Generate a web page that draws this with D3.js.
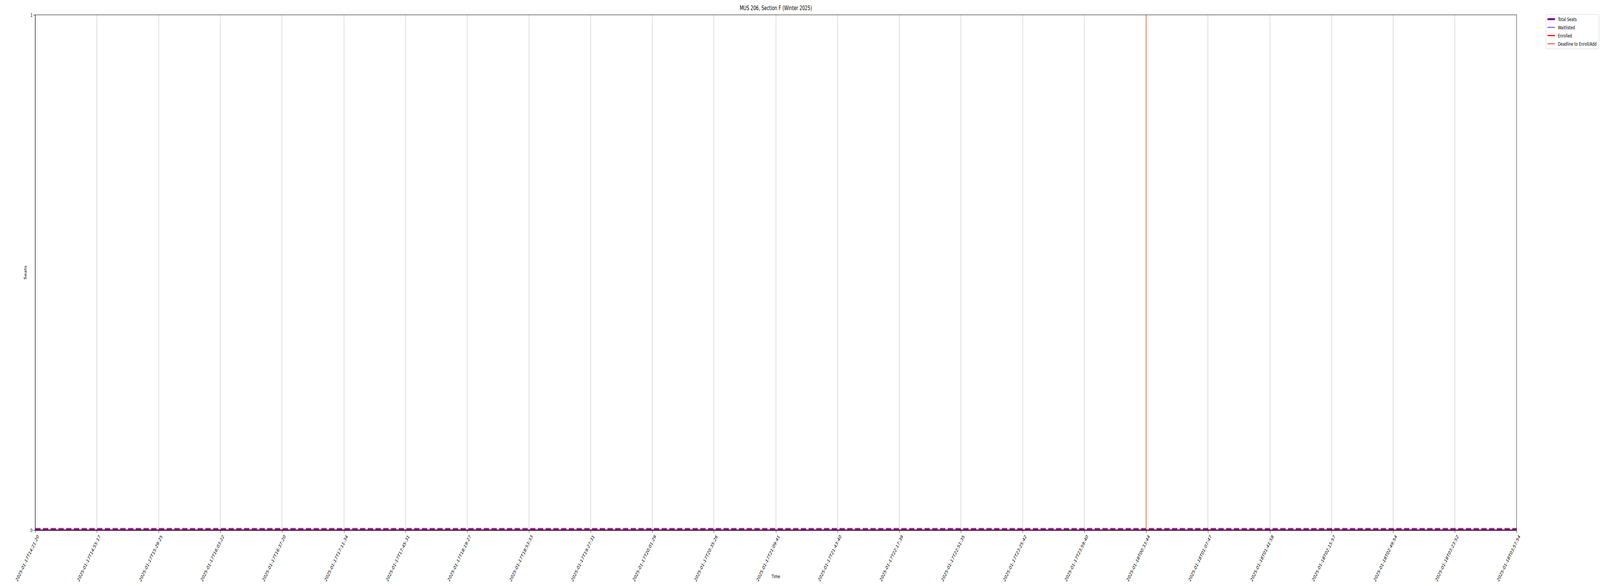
<!DOCTYPE html>
<html><head><meta charset="utf-8">
<script src="https://cdn.jsdelivr.net/npm/d3@7"></script>
<style>html,body{margin:0;padding:0;background:#fff;overflow:hidden} svg{display:block;width:100vw;height:100vh} text{font-family:"DejaVu Sans",sans-serif}</style>
</head><body><svg id="chart" viewBox="0 0 6000 1500" preserveAspectRatio="none"></svg>
<script>
// timestamps of the samples (also used as tick labels)
const times = ["2025-01-17T14:21:20","2025-01-17T14:55:17","2025-01-17T15:29:25","2025-01-17T16:03:22",
  "2025-01-17T16:37:20","2025-01-17T17:11:34","2025-01-17T17:45:31","2025-01-17T18:19:27",
  "2025-01-17T18:53:33","2025-01-17T19:27:31","2025-01-17T20:01:29","2025-01-17T20:35:26",
  "2025-01-17T21:09:41","2025-01-17T21:43:40","2025-01-17T22:17:39","2025-01-17T22:51:35",
  "2025-01-17T23:25:42","2025-01-17T23:59:40","2025-01-18T00:33:44","2025-01-18T01:07:47",
  "2025-01-18T01:41:58","2025-01-18T02:15:57","2025-01-18T02:49:54","2025-01-18T03:23:52",
  "2025-01-18T03:57:54"];
const totalSeats = [0,0,0,0,0,0,0,0,0,0,0,0,0,0,0,0,0,0,0,0,0,0,0,0,0];
const waitlisted = [0,0,0,0,0,0,0,0,0,0,0,0,0,0,0,0,0,0,0,0,0,0,0,0,0];
const enrolled   = [0,0,0,0,0,0,0,0,0,0,0,0,0,0,0,0,0,0,0,0,0,0,0,0,0];
const deadline = "2025-01-18T00:33:44";

const parse = d3.timeParse("%Y-%m-%dT%H:%M:%S");
const dates = times.map(parse);
const svg = d3.select("#chart");
const m = {l:132, r:6000-5687, t:38, b:1500-1357};
const W = 6000 - m.l - m.r, H = 1500 - m.t - m.b;
const g = svg.append("g").attr("transform", `translate(${m.l},${m.t})`);
const x = d3.scaleTime().domain(d3.extent(dates)).range([0, W]);
const y = d3.scaleLinear().domain([0, 1]).range([H, 0]);

// grid
g.selectAll(".grid").data(dates).join("line")
  .attr("x1", d => x(d)).attr("x2", d => x(d)).attr("y1", 0).attr("y2", H)
  .attr("stroke", "#b0b0b0").attr("stroke-width", 1);

const line = vals => d3.line().x((d, i) => x(dates[i])).y(d => y(d))(vals);
g.append("path").attr("d", line(enrolled)).attr("fill", "none").attr("stroke", "red").attr("stroke-width", 3);
g.append("path").attr("d", line(waitlisted)).attr("fill", "none").attr("stroke", "blue").attr("stroke-width", 1.5);
g.append("path").attr("d", line(totalSeats)).attr("fill", "none").attr("stroke", "purple").attr("stroke-width", 5)
  .attr("stroke-dasharray", "20,9").attr("opacity", 0.85).attr("transform", "translate(0,-3)");
g.append("line").attr("x1", x(parse(deadline))).attr("x2", x(parse(deadline)))
  .attr("y1", 0).attr("y2", H).attr("stroke", "#e5401a").attr("stroke-width", 2);

// axes
const xa = g.append("g").attr("transform", `translate(0,${H})`)
  .call(d3.axisBottom(x).tickValues(dates).tickFormat(d3.timeFormat("%Y-%m-%dT%H:%M:%S")).tickSize(7).tickSizeOuter(0));
xa.selectAll("text").attr("font-size", 13).attr("text-anchor", "end")
  .attr("transform", "translate(4,6) rotate(-55)").attr("dy", "0.35em").attr("dx", "-0.2em");
const ya = g.append("g").call(d3.axisLeft(y).tickValues([0, 1]).tickFormat(d3.format("d")).tickSize(7));
ya.selectAll("text").attr("font-size", 13);
g.selectAll(".domain").attr("stroke", "#000");
g.append("rect").attr("width", W).attr("height", H).attr("fill", "none").attr("stroke", "#000");

svg.append("text").attr("x", m.l + W/2).attr("y", 26).attr("text-anchor", "middle").attr("font-size", 16)
  .text("MUS 206, Section F (Winter 2025)");
svg.append("text").attr("x", m.l + W/2).attr("y", 1480).attr("text-anchor", "middle").attr("font-size", 13).text("Time");
svg.append("text").attr("transform", `translate(100,${m.t + H/2}) rotate(-90)`).attr("text-anchor", "middle")
  .attr("font-size", 13).text("Seats");

// legend
const legend = [
  {name:"Total Seats", color:"purple", w:5},
  {name:"Waitlisted", color:"blue", w:1.5},
  {name:"Enrolled", color:"red", w:3},
  {name:"Deadline to Enroll/Add", color:"#e5401a", w:2}];
const lg = svg.append("g").attr("transform", "translate(5798,37)");
lg.append("rect").attr("width", 198).attr("height", 88).attr("rx", 3).attr("fill", "#fff").attr("stroke", "#ccc");
legend.forEach((d, i) => {
  const yy = 12 + i * 21;
  lg.append("line").attr("x1", 5).attr("x2", 33).attr("y1", yy).attr("y2", yy).attr("stroke", d.color).attr("stroke-width", d.w);
  lg.append("text").attr("x", 44).attr("y", yy + 5).attr("font-size", 13).text(d.name);
});
</script></body></html>
